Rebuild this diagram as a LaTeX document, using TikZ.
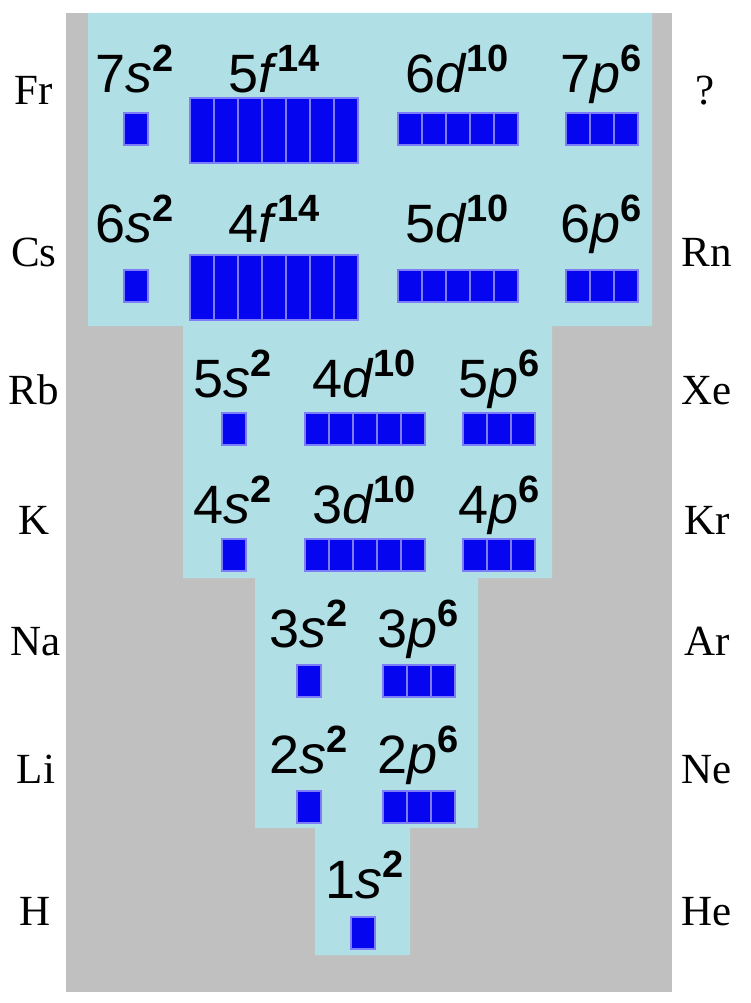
\documentclass[tikz,border=0pt]{standalone}
\usepackage{fontspec}
\setmainfont{Liberation Serif}
\newfontfamily\orbfont{Liberation Sans}
\usetikzlibrary{calc}
\definecolor{shellgray}{RGB}{192,192,192}
\definecolor{shellblue}{RGB}{176,224,230}
\definecolor{boxblue}{RGB}{5,5,240}
\definecolor{boxedge}{RGB}{125,125,250}
\tikzset{
  elem/.style={anchor=base, font=\fontsize{43}{43}\selectfont},
  orb/.style={anchor=base, inner sep=0pt, font=\orbfont\fontsize{54}{54}\selectfont},
  cell/.style={fill=boxblue, draw=boxedge, line width=1.1pt}
}
% label like 7s^2
\newcommand{\orbl}[3]{#1\textit{#2}\raisebox{21pt}{\fontsize{38}{38}\selectfont\bfseries #3}}
% row of cells: left x, top y, count, height
\newcommand{\cells}[4]{\foreach \i in {1,...,#3} \draw[cell] (#1+24*\i-24,#2) rectangle ++(24,#4);}

\begin{document}
\begin{tikzpicture}[x=1pt,y=-1pt]
\useasboundingbox (0,0) rectangle (750,1003);
\fill[shellgray] (66,13) rectangle (672,992);
\fill[shellblue] (88,13) -- (652,13) -- (652,326) -- (552,326) -- (552,578) -- (478,578) -- (478,828) -- (410,828) -- (410,955) -- (315,955) -- (315,828) -- (255,828) -- (255,578) -- (183,578) -- (183,326) -- (88,326) -- cycle;

% element names
\node[elem] (Fr) at (34,105) {Fr};
\node[elem] (Cs) at (34,266) {Cs};
\node[elem] (Rb) at (34,404) {Rb};
\node[elem] (K) at (34,534) {K};
\node[elem] (Na) at (36,655) {Na};
\node[elem] (Li) at (36,783) {Li};
\node[elem] (H) at (35,925) {H};
\node[elem] (unk) at (705,105) {?};
\node[elem] (Rn) at (707,266) {Rn};
\node[elem] (Xe) at (707,404) {Xe};
\node[elem] (Kr) at (707,534) {Kr};
\node[elem] (Ar) at (707,655) {Ar};
\node[elem] (Ne) at (707,783) {Ne};
\node[elem] (He) at (707,925) {He};

% period 7
\node[orb] (s7) at (135,93) {\orbl{7}{s}{2}};
\node[orb] (f5) at (274,93) {\orbl{5}{f}{14}};
\node[orb] (d6) at (457,93) {\orbl{6}{d}{10}};
\node[orb] (p7) at (601,93) {\orbl{7}{p}{6}};
\cells{124}{113}{1}{32}
\cells{190}{98}{7}{65}
\cells{398}{113}{5}{32}
\cells{566}{113}{3}{32}

% period 6
\node[orb] (s6) at (135,242) {\orbl{6}{s}{2}};
\node[orb] (f4) at (274,242) {\orbl{4}{f}{14}};
\node[orb] (d5) at (457,242) {\orbl{5}{d}{10}};
\node[orb] (p6) at (601,242) {\orbl{6}{p}{6}};
\cells{124}{270}{1}{32}
\cells{190}{255}{7}{65}
\cells{398}{270}{5}{32}
\cells{566}{270}{3}{32}

% period 5
\node[orb] (s5) at (233,397) {\orbl{5}{s}{2}};
\node[orb] (d4) at (364,397) {\orbl{4}{d}{10}};
\node[orb] (p5) at (499,397) {\orbl{5}{p}{6}};
\cells{222}{413}{1}{32}
\cells{305}{413}{5}{32}
\cells{463}{413}{3}{32}

% period 4
\node[orb] (s4) at (233,523) {\orbl{4}{s}{2}};
\node[orb] (d3) at (364,523) {\orbl{3}{d}{10}};
\node[orb] (p4) at (499,523) {\orbl{4}{p}{6}};
\cells{222}{539}{1}{32}
\cells{305}{539}{5}{32}
\cells{463}{539}{3}{32}

% period 3
\node[orb] (s3) at (309,647) {\orbl{3}{s}{2}};
\node[orb] (p3) at (418,647) {\orbl{3}{p}{6}};
\cells{297}{665}{1}{32}
\cells{383}{665}{3}{32}

% period 2
\node[orb] (s2) at (309,773) {\orbl{2}{s}{2}};
\node[orb] (p2) at (418,773) {\orbl{2}{p}{6}};
\cells{297}{791}{1}{32}
\cells{383}{791}{3}{32}

% period 1
\node[orb] (s1) at (365,898) {\orbl{1}{s}{2}};
\cells{351}{917}{1}{32}
\end{tikzpicture}
\end{document}
